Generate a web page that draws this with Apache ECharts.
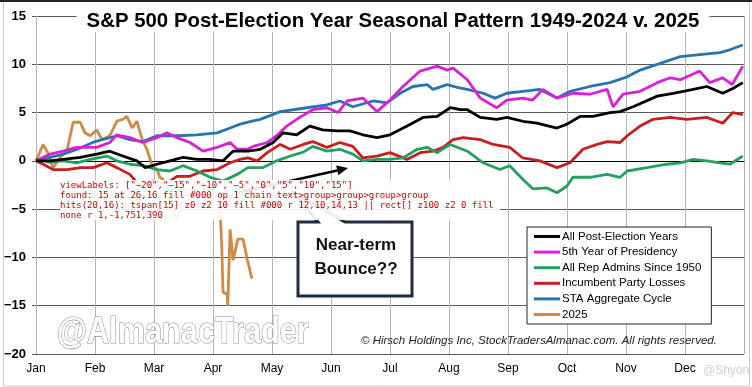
<!DOCTYPE html>
<html>
<head>
<meta charset="utf-8">
<script src="https://cdn.jsdelivr.net/npm/echarts@6/dist/echarts.min.js"></script>
<style>
html,body{margin:0;padding:0;background:#fff;}
#c{width:752px;height:387px;}
#dbg{position:absolute;left:60px;top:180px;width:440px;font:9px monospace;color:#c00;background:rgba(255,255,255,0.9);white-space:pre-wrap;}
</style>
</head>
<body>
<div id="c"></div>
<div id="dbg"></div>
<script>
// ---- data (x = months since Jan 1, y = % change) ----
const months = ['Jan','Feb','Mar','Apr','May','Jun','Jul','Aug','Sep','Oct','Nov','Dec'];
const yTickValues = [-20,-15,-10,-5,0,5,10,15];

const allPostElection = [[0,0],[0.24,0],[0.46,0.15],[0.75,0.35],[1.03,0.7],[1.25,1.0],[1.47,0.5],[1.71,0],[1.85,-0.7],[2.05,-0.35],[2.27,0],[2.49,0.35],[2.73,0.15],[2.95,0.15],[3.17,0],[3.34,1.0],[3.59,1.0],[3.80,1.2],[4.02,1.9],[4.19,2.9],[4.42,2.7],[4.64,3.6],[4.86,3.2],[5.10,3.1],[5.32,3.1],[5.54,2.7],[5.78,2.4],[6.00,2.7],[6.29,3.6],[6.56,4.5],[6.80,4.6],[7.02,5.5],[7.19,5.3],[7.31,5.3],[7.53,4.5],[7.81,4.3],[7.98,4.5],[8.25,4.1],[8.49,3.9],[8.83,3.4],[9.00,3.8],[9.22,4.6],[9.44,4.6],[9.73,5.0],[9.90,5.1],[10.12,5.6],[10.53,6.7],[10.80,7.0],[11.14,7.4],[11.37,7.7],[11.64,7.0],[11.81,7.5],[11.98,8.1]];
const fifthYear = [[0,0],[0.24,0.7],[0.46,1.0],[0.69,1.4],[1.03,1.4],[1.25,1.9],[1.37,2.7],[1.59,2.4],[1.81,1.9],[2.05,2.4],[2.22,2.9],[2.39,2.4],[2.61,1.9],[2.83,1.0],[3.07,1.4],[3.29,1.9],[3.41,1.2],[3.59,1.2],[3.68,1.5],[3.92,1.9],[4.08,2.6],[4.25,3.6],[4.47,4.5],[4.69,5.3],[4.93,5.5],[5.12,5.0],[5.27,6.2],[5.54,6.5],[5.78,5.1],[6.00,6.3],[6.22,7.7],[6.51,9.3],[6.80,9.8],[6.97,9.4],[7.07,9.6],[7.31,8.4],[7.53,6.5],[7.81,5.5],[7.98,6.3],[8.25,6.5],[8.42,6.3],[8.59,7.4],[8.83,6.5],[9.10,7.0],[9.39,6.9],[9.68,7.4],[9.78,5.6],[9.95,6.9],[10.24,7.2],[10.53,8.1],[10.75,8.6],[10.92,8.4],[11.25,9.3],[11.42,8.1],[11.64,8.6],[11.80,7.9],[11.98,9.8]];
const repAdmins = [[0,0.2],[0.24,-0.15],[0.46,0],[0.69,-0.2],[0.92,0.15],[1.20,0.5],[1.37,0],[1.59,-0.35],[1.81,-0.5],[2.05,-0.9],[2.27,-1.05],[2.49,-0.5],[2.73,-1.05],[2.95,-1.7],[3.17,-2.1],[3.41,-1.4],[3.59,-0.7],[3.85,-0.7],[4.08,0],[4.31,0.5],[4.53,0.9],[4.69,1.5],[4.93,1.0],[5.15,1.2],[5.37,0.7],[5.54,0],[5.78,0.15],[6.00,0.15],[6.22,0.3],[6.46,1.2],[6.63,1.4],[6.80,0.85],[7.02,1.7],[7.31,1.0],[7.58,-0.2],[7.86,-0.9],[8.03,-0.5],[8.25,-1.9],[8.42,-2.9],[8.66,-2.8],[8.83,-3.3],[9.00,-2.6],[9.10,-1.7],[9.39,-1.7],[9.68,-1.4],[9.90,-1.7],[10.02,-1.05],[10.36,-0.7],[10.69,-0.35],[10.92,-0.2],[11.14,0.15],[11.37,0],[11.59,-0.2],[11.76,-0.35],[11.98,0.5]];
const incumbentLosses = [[0,0],[0.12,-0.35],[0.29,-0.9],[0.53,-0.9],[0.75,-0.7],[0.97,-0.7],[1.20,-0.2],[1.37,-0.7],[1.59,-1.4],[1.76,-2.6],[1.98,-2.1],[2.22,-2.3],[2.39,-1.6],[2.61,-1.6],[2.83,-1.05],[3.07,-0.9],[3.29,-0.2],[3.46,0.15],[3.59,0.3],[3.75,0],[3.92,0.85],[4.14,1.7],[4.31,1.2],[4.53,1.7],[4.69,2.0],[4.93,1.4],[5.15,1.9],[5.37,1.5],[5.54,0.3],[5.78,0.5],[6.00,0.85],[6.29,0.15],[6.51,0.85],[6.73,1.0],[6.90,1.4],[7.07,2.2],[7.24,2.4],[7.53,2.2],[7.75,1.7],[8.03,1.4],[8.25,0.3],[8.54,0],[8.83,-0.7],[9.05,-0.2],[9.27,1.2],[9.51,1.7],[9.68,2.0],[9.90,1.9],[10.02,2.6],[10.24,3.6],[10.46,4.3],[10.75,4.5],[11.03,4.3],[11.37,4.5],[11.64,3.9],[11.81,5.0],[11.98,4.8]];
const staAggregate = [[0,0],[0.46,0.7],[0.70,1.2],[1.00,2.0],[1.37,2.6],[1.59,2.2],[1.81,2.0],[2.05,2.6],[2.39,2.6],[2.73,2.7],[3.07,2.9],[3.29,3.4],[3.46,3.8],[3.59,4.0],[3.80,4.3],[4.14,5.1],[4.59,5.5],[4.93,5.8],[5.15,6.2],[5.37,5.6],[5.71,6.2],[5.95,6.0],[6.17,7.0],[6.39,7.7],[6.63,7.9],[6.73,7.4],[6.97,7.9],[7.14,7.6],[7.31,7.4],[7.58,7.0],[7.78,6.5],[7.98,7.0],[8.25,7.2],[8.54,7.4],[8.83,6.5],[9.05,7.2],[9.39,7.7],[9.73,8.1],[10.02,8.7],[10.24,9.4],[10.58,10.1],[10.92,10.8],[11.25,11.0],[11.59,11.2],[11.76,11.5],[11.98,12.0]];
const year2025 = [[0,0],[0.12,1.7],[0.20,0.85],[0.29,-0.7],[0.41,0.35],[0.53,1.2],[0.63,4.0],[0.75,4.0],[0.83,2.9],[0.92,2.6],[1.03,3.2],[1.12,2.2],[1.25,2.6],[1.37,4.1],[1.47,4.3],[1.54,4.6],[1.63,3.4],[1.71,4.1],[1.80,2.2],[1.88,1.2],[1.97,-0.5],[2.05,-0.9],[2.10,-1.7],[2.15,-1.9],[2.22,-2.9],[2.27,-4.8],[2.39,-6.0],[2.49,-3.6],[2.61,-3.6],[2.73,-2.2],[2.83,-2.2],[2.90,-4.0],[3.00,-3.8],[3.07,-3.5],[3.12,-5.0],[3.15,-9.1],[3.17,-13.6],[3.24,-13.8],[3.25,-15.0],[3.29,-7.1],[3.34,-10.3],[3.42,-8.1],[3.51,-8.1],[3.58,-10.2],[3.66,-12.2]];

const seriesNames = ['All Post-Election Years','5th Year of Presidency','All Rep Admins Since 1950','Incumbent Party Losses','STA Aggregate Cycle','2025'];
const seriesColors = ['#000000','#d91fd9','#23a05e','#c81e1e','#2775b0','#d08a45'];
const seriesData = [allPostElection, fifthYear, repAdmins, incumbentLosses, staAggregate, year2025];

const FONT = '"Liberation Sans", Arial, Helvetica, sans-serif';
const chart = echarts.init(document.getElementById('c'), null, {renderer:'canvas'});
const series = seriesData.map((d, i) => ({
  name: seriesNames[i], type: 'line', data: d, showSymbol: false, symbol: 'none', smooth: false,
  z: i === 5 ? 5 : 10 - i,
  lineStyle: {color: seriesColors[i], width: 2.8}, itemStyle: {color: seriesColors[i]}, emphasis: {disabled: true}
}));
const aS = [236,193], aT = [348,168];
const dx = aT[0]-aS[0], dy = aT[1]-aS[1], L = Math.hypot(dx,dy);
const ux = dx/L, uy = dy/L, hl = 11, hw = 5;
const bx = aT[0]-ux*hl, by = aT[1]-uy*hl;
const yMin = yTickValues[0], yTop = yTickValues[yTickValues.length-1];
const GRID = {left: 36, right: 8, top: 16, bottom: 33};
const Y_LABEL_MARGIN = 10;
chart.setOption({
  animation: false, backgroundColor: '#fff', grid: GRID,
  xAxis: {type: 'value', min: 0, max: 12, interval: 1,
    axisLine: {show: true, lineStyle: {color: '#000', width: 1}}, axisTick: {show: false},
    splitLine: {show: true, lineStyle: {color: '#b4b4b4', width: 1}},
    axisLabel: {margin: 9, color: '#000', fontSize: 12, fontFamily: FONT, formatter: v => (v >= 0 && v < 12) ? months[v] : ''}},
  yAxis: {type: 'value', min: yMin, max: yTop, interval: 5, axisLine: {show: false},
    axisTick: {show: true, inside: false, length: 4, lineStyle: {color: '#555'}},
    splitLine: {show: true, lineStyle: {color: '#5a5a5a', width: 1}},
    axisLabel: {margin: Y_LABEL_MARGIN, color: '#000', fontSize: 13, fontWeight: 'bold', fontFamily: FONT,
      formatter: v => String(v).replace('-', '\u2212')}},
  legend: {orient: 'vertical', left: 527, top: 227, data: seriesNames, icon: 'rect', itemWidth: 26, itemHeight: 3, itemGap: 2.6,
    padding: [3, 10, 3, 7], borderColor: '#222', borderWidth: 1, backgroundColor: '#fff',
    textStyle: {color: '#000', fontSize: 11.5, fontFamily: FONT, lineHeight: 13, padding: [0,0,0,-3]}, selectedMode: false},
  series: series,
  graphic: [
    {type: 'rect', silent: true, z: 100, shape: {x: 3.5, y: 1, width: 746, height: 385}, style: {fill: 'none', stroke: '#c8c8c8', lineWidth: 1}},
    {type: 'rect', silent: true, z: 101, shape: {x: 0, y: 0, width: 752, height: 2}, style: {fill: '#222'}},
    {type: 'text', silent: true, z: 100, x: 393, y: 21,
      style: {text: 'S&P 500 Post-Election Year Seasonal Pattern 1949-2024 v. 2025', font: 'bold 20.4px ' + FONT,
        fill: '#000', align: 'center', verticalAlign: 'middle', backgroundColor: '#fff', padding: [1, 10]}},
    {type: 'text', silent: true, z: 50, x: 57, y: 333, scaleX: 0.83, originX: 0, originY: 0,
      style: {text: '@AlmanacTrader', font: 'bold 37px ' + FONT, fill: '#fff', stroke: '#8f8f8f', lineWidth: 1.2, align: 'left', verticalAlign: 'middle'}},
    {type: 'text', silent: true, z: 50, x: 361, y: 341,
      style: {text: '\u00a9 Hirsch Holdings Inc, StockTradersAlmanac.com. All rights reserved.', font: 'italic 11.5px ' + FONT, fill: '#222', align: 'left', verticalAlign: 'middle'}},
    {type: 'text', silent: true, z: 50, x: 703, y: 371,
      style: {text: '@Shyon', font: '12px ' + FONT, fill: '#d0d0d0', align: 'left', verticalAlign: 'middle'}},
    {type: 'line', silent: true, z: 60, shape: {x1: aS[0], y1: aS[1], x2: bx, y2: by}, style: {stroke: '#000', lineWidth: 2.6}},
    {type: 'polygon', silent: true, z: 60, shape: {points: [[aT[0],aT[1]],[bx - uy*hw, by + ux*hw],[bx + uy*hw, by - ux*hw]]}, style: {fill: '#000'}},
    {type: 'polygon', silent: true, z: 60, shape: {points: [[298,222],[318,222],[295,193],[345,222],[412,222],[412,296],[298,296]]},
      style: {fill: '#fff', stroke: '#1f2d3c', lineWidth: 3, lineJoin: 'miter'}},
    {type: 'text', silent: true, z: 61, x: 356, y: 257,
      style: {text: 'Near-term\nBounce??', font: 'bold 17px ' + FONT, lineHeight: 24, fill: '#111', align: 'center', verticalAlign: 'middle'}}
  ]
});
let out = '';
try {
  const ax = chart.getModel().getComponent('yAxis', 0).axis;
  out += 'viewLabels: ' + JSON.stringify(ax.getViewLabels().map(l => l.formattedLabel)) + '\n';
} catch (e) { out += 'err1 ' + e + '\n'; }
const found = [];
chart.getZr().storage.traverse(el => {
  if (el.style && el.style.text === '15') {
    let p = el, chain = [];
    while (p) { chain.push((p.type||'g') + (p.ignore?'!ign':'') + (p.invisible?'!inv':'')); p = p.parent; }
    found.push('15 at ' + Math.round(el.x) + ',' + Math.round(el.y) + ' fill ' + el.style.fill + ' op ' + el.style.opacity + ' chain ' + chain.join('>'));
  }
});
out += 'found: ' + found.join(' || ') + '\n';
const hits = [];
chart.getZr().storage.getDisplayList(true).forEach(el => {
  try {
    const r = el.getBoundingRect().clone();
    if (el.transform) r.applyTransform(el.transform);
    if (r.contain(20, 16)) hits.push(el.type + '[' + (el.style && (el.style.text || '')) + '] z' + el.z + ' z2 ' + el.z2 + ' fill ' + (el.style && el.style.fill) + ' r ' + [r.x,r.y,r.width,r.height].map(Math.round).join(','));
  } catch (e) {}
});
out += 'hits(20,16): ' + hits.join(' || ');
document.getElementById('dbg').textContent = out;
</script>
</body>
</html>
